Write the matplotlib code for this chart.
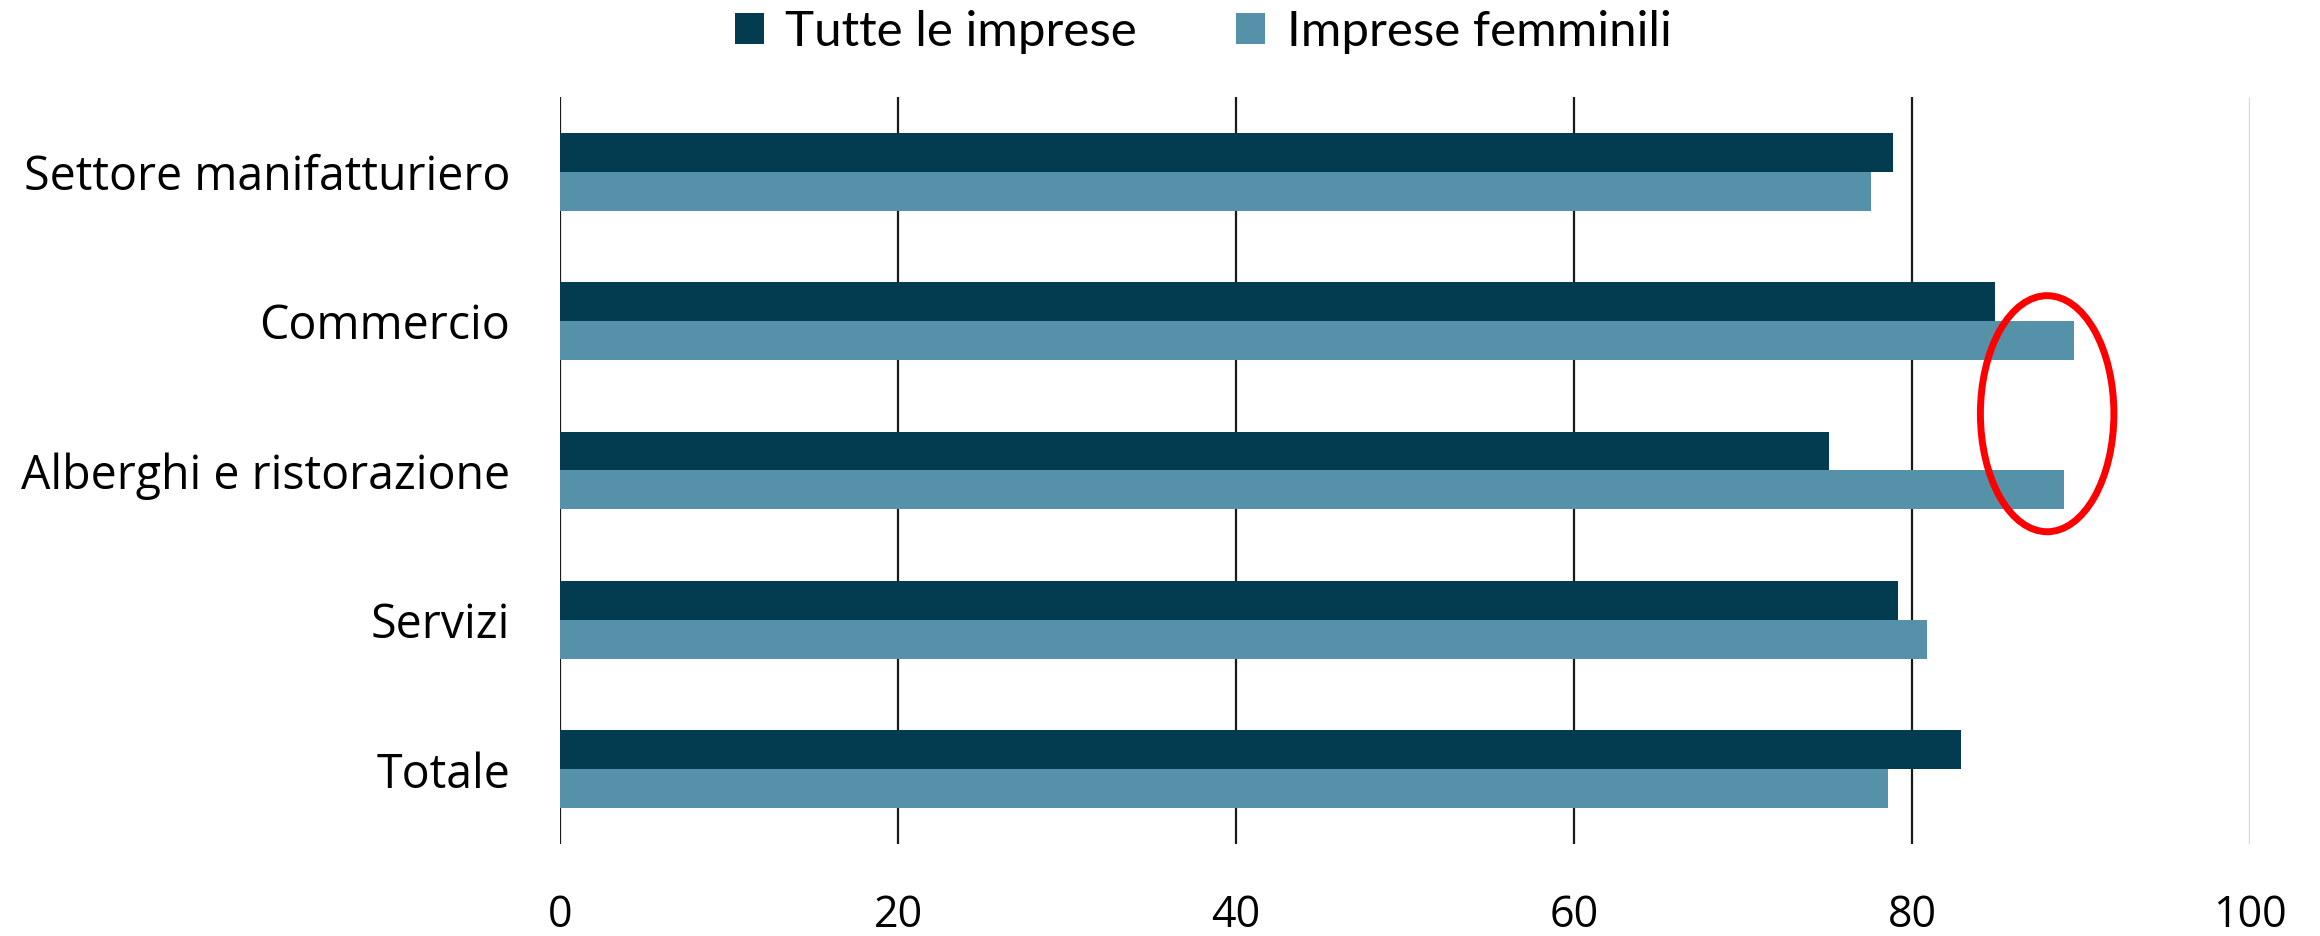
import matplotlib.pyplot as plt
import numpy as np
from matplotlib.patches import Ellipse

categorie = ["Settore manifatturiero", "Commercio", "Alberghi e ristorazione", "Servizi", "Totale"]
tutte = [78.9, 84.9, 75.1, 79.2, 82.9]
femminili = [77.6, 89.6, 89.0, 80.9, 78.6]
serie = ["Tutte le imprese", "Imprese femminili"]
xticks = [0, 20, 40, 60, 80, 100]

col_scuro = "#033c51"
col_chiaro = "#5592aa"

fig = plt.figure(figsize=(23.2, 9.36), dpi=100)
ax = fig.add_axes([0.2414, 0.0983, 0.9698 - 0.2414, 0.8964 - 0.0983])

y = np.arange(len(categorie))
h = 0.26
ax.barh(y - h / 2, tutte, height=h, color=col_scuro, label=serie[0], zorder=2)
ax.barh(y + h / 2, femminili, height=h, color=col_chiaro, label=serie[1], zorder=2)

ax.set_xlim(0, 100)
ax.set_ylim(4.5, -0.5)
ax.set_yticks(y)
ax.set_yticklabels(categorie, fontsize=33.5, family="Open Sans")
ax.set_xticks(xticks)
ax.set_xticklabels([str(v) for v in xticks], fontsize=31, family="Open Sans")
ax.tick_params(axis="y", length=0, pad=36)
ax.tick_params(axis="x", length=0, pad=36)

for v in xticks:
    c = "#d9d9d9" if v == 100 else "#1a1a1a"
    ax.axvline(v, color=c, lw=1.6, zorder=1)

for s in ax.spines.values():
    s.set_visible(False)

# cerchio rosso
ax.add_patch(Ellipse((88.0, 1.62), 7.9, 1.58, fill=False, edgecolor="#ff0000",
                     lw=5, clip_on=False, zorder=5))

fig.legend(loc="center", bbox_to_anchor=(0.5185, 0.966), ncol=2, frameon=False,
           prop={"family": "Lato", "size": 35.5}, handlelength=0.6, handleheight=0.6,
           handletextpad=0.43, columnspacing=2.0, borderpad=0)

fig.savefig("out.png", dpi=100)
